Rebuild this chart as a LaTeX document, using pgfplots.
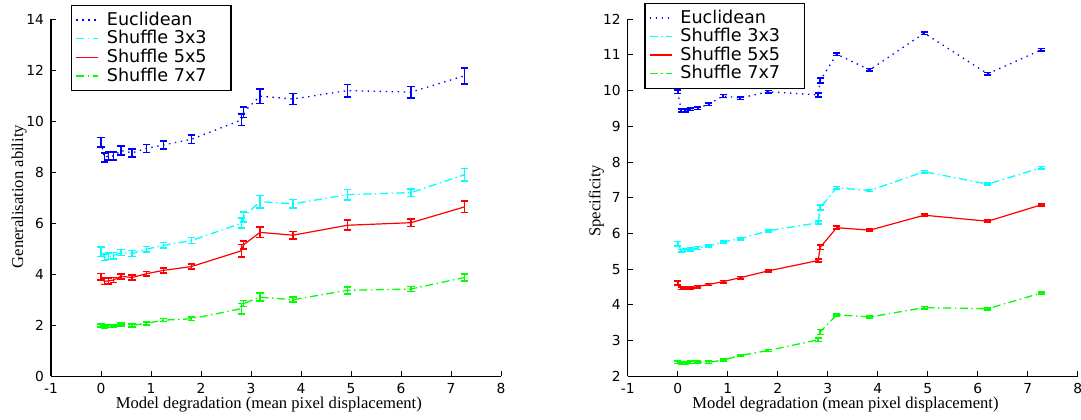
\documentclass[border=0pt]{standalone}
\usepackage{fontspec}
\setmainfont{DejaVu Sans}
\newfontfamily\labfont{Liberation Serif}
\usepackage{pgfplots}
\pgfplotsset{compat=1.18}

\definecolor{mblue}{RGB}{0,0,255}
\definecolor{mcyan}{RGB}{0,255,255}
\definecolor{mred}{RGB}{255,0,0}
\definecolor{mgreen}{RGB}{0,255,0}

\newcommand{\lent}[1]{\makebox[58pt][l]{\rule[-2.4pt]{0pt}{9pt}#1}}

\pgfplotsset{
  degr/.style={
    scale only axis,
    width=225pt, height=178.5pt,
    axis x line=bottom, axis y line=left,
    axis line style={-, line width=0.6pt, black},
    tick align=inside,
    major tick length=2.5pt,
    tick style={black, line width=0.5pt},
    xmin=-1, xmax=8, xtick={-1,0,...,8},
    tick label style={font=\fontsize{6.9}{8}\selectfont},
    /pgf/number format/assume math mode=true,
    xlabel={Model degradation (mean pixel displacement)},
    xlabel style={font=\labfont\fontsize{8.3}{9}\selectfont, at={(axis description cs:0.484,-0.078)}, anchor=center},
    ylabel style={font=\labfont\fontsize{8.3}{9}\selectfont, anchor=center, rotate=0},
    legend style={draw=black, line width=0.6pt, fill=white, anchor=north west,
      font=\fontsize{8.8}{9}\selectfont, row sep=-2.9pt, inner xsep=2pt, inner ysep=1.2pt,
      /tikz/every odd column/.append style={column sep=2pt}},
    legend cell align=left,
    legend image code/.code={\draw[#1, line width=0.75pt] (0pt,0pt) -- (11pt,0pt);},
    error bars/y dir=both, error bars/y explicit,
    error bars/error bar style={solid, line width=0.85pt},
    error bars/error mark options={rotate=90, mark size=1.8pt, line width=0.85pt, solid},
  },
  eucl/.style={mblue, line width=0.65pt, dash pattern=on 0.7pt off 2.3pt},
  sh3/.style={mcyan, line width=0.65pt, dash pattern=on 4pt off 1.8pt on 0.7pt off 1.8pt},
  sh5/.style={mred, line width=0.6pt},
  sh7/.style={mgreen, line width=0.65pt, dash pattern=on 4pt off 1.8pt on 0.7pt off 1.8pt},
}

\begin{document}
\begin{tikzpicture}
\useasboundingbox (0,0) rectangle (540.5pt,209.5pt);

% left: generalisation ability
\begin{axis}[degr, at={(25.5pt,21.4pt)}, anchor=south west,
  ymin=0, ymax=14, ytick={0,2,...,14},
  ylabel={Generalisation ability},
  ylabel style={at={(axis description cs:-0.071,0.503)}},
  legend style={at={(0.044,1.040)}}]
\addplot[eucl] table[x index=0, y index=1, y error index=2] {
0    9.18 0.18
0.07 8.57 0.18
0.15 8.64 0.16
0.25 8.63 0.16
0.40 8.85 0.18
0.62 8.76 0.16
0.91 8.93 0.16
1.25 9.07 0.16
1.81 9.29 0.16
2.81 10.05 0.22
2.85 10.35 0.20
3.18 10.98 0.28
3.84 10.87 0.22
4.93 11.20 0.24
6.20 11.14 0.22
7.27 11.78 0.32
};
\addplot[sh3] table[x index=0, y index=1, y error index=2] {
0    4.88 0.18
0.07 4.66 0.12
0.15 4.70 0.12
0.25 4.73 0.12
0.40 4.85 0.12
0.62 4.81 0.12
0.91 4.98 0.11
1.25 5.13 0.11
1.81 5.32 0.12
2.81 6.00 0.20
2.85 6.25 0.20
3.18 6.85 0.24
3.84 6.76 0.17
4.93 7.12 0.20
6.20 7.20 0.15
7.27 7.90 0.24
};
\addplot[sh5] table[x index=0, y index=1, y error index=2] {
0    3.90 0.13
0.07 3.72 0.12
0.15 3.74 0.12
0.25 3.77 0.10
0.40 3.92 0.10
0.62 3.87 0.10
0.91 4.02 0.09
1.25 4.15 0.10
1.81 4.30 0.10
2.81 4.92 0.25
2.85 5.15 0.15
3.18 5.64 0.20
3.84 5.53 0.14
4.93 5.92 0.20
6.20 6.02 0.15
7.27 6.64 0.22
};
\addplot[sh7] table[x index=0, y index=1, y error index=2] {
0    2.00 0.06
0.07 1.96 0.06
0.15 1.96 0.05
0.25 1.97 0.05
0.40 2.03 0.06
0.62 2.00 0.06
0.91 2.07 0.06
1.25 2.20 0.06
1.81 2.25 0.06
2.81 2.65 0.20
2.85 2.85 0.12
3.18 3.10 0.15
3.84 3.00 0.10
4.93 3.37 0.14
6.20 3.42 0.10
7.27 3.87 0.15
};
\legend{\lent{Euclidean}, \lent{Shuffle 3x3}, \lent{Shuffle 5x5}, \lent{Shuffle 7x7}}
\end{axis}

% right: specificity
\begin{axis}[degr, at={(313.85pt,21.4pt)}, anchor=south west,
  ymin=2, ymax=12, ytick={2,3,...,12},
  ylabel={Specificity},
  ylabel style={at={(axis description cs:-0.070,0.491)}},
  legend style={at={(0.037,1.046)}}]
\addplot[eucl] table[x index=0, y index=1, y error index=2] {
0    9.97 0.05
0.07 9.44 0.04
0.15 9.45 0.04
0.25 9.48 0.04
0.40 9.51 0.04
0.62 9.62 0.04
0.91 9.85 0.04
1.25 9.79 0.04
1.81 9.97 0.03
2.81 9.88 0.05
2.85 10.28 0.07
3.18 11.02 0.04
3.84 10.58 0.04
4.93 11.61 0.04
6.20 10.47 0.04
7.27 11.14 0.04
};
\addplot[sh3] table[x index=0, y index=1, y error index=2] {
0    5.71 0.06
0.07 5.51 0.04
0.15 5.53 0.04
0.25 5.55 0.04
0.40 5.59 0.04
0.62 5.65 0.03
0.91 5.76 0.03
1.25 5.85 0.03
1.81 6.07 0.03
2.81 6.30 0.04
2.85 6.72 0.07
3.18 7.28 0.03
3.84 7.20 0.03
4.93 7.73 0.03
6.20 7.38 0.03
7.27 7.84 0.03
};
\addplot[sh5] table[x index=0, y index=1, y error index=2] {
0    4.61 0.05
0.07 4.46 0.03
0.15 4.47 0.03
0.25 4.48 0.03
0.40 4.51 0.03
0.62 4.57 0.03
0.91 4.65 0.03
1.25 4.76 0.03
1.81 4.95 0.03
2.81 5.24 0.04
2.85 5.61 0.06
3.18 6.16 0.04
3.84 6.09 0.03
4.93 6.51 0.04
6.20 6.34 0.03
7.27 6.80 0.03
};
\addplot[sh7] table[x index=0, y index=1, y error index=2] {
0    2.39 0.03
0.07 2.37 0.03
0.15 2.37 0.03
0.25 2.39 0.03
0.40 2.39 0.03
0.62 2.39 0.03
0.91 2.45 0.03
1.25 2.58 0.02
1.81 2.72 0.03
2.81 3.02 0.05
2.85 3.24 0.07
3.18 3.72 0.03
3.84 3.66 0.02
4.93 3.92 0.03
6.20 3.89 0.03
7.27 4.33 0.03
};
\legend{\lent{Euclidean}, \lent{Shuffle 3x3}, \lent{Shuffle 5x5}, \lent{Shuffle 7x7}}
\end{axis}
\end{tikzpicture}
\end{document}
